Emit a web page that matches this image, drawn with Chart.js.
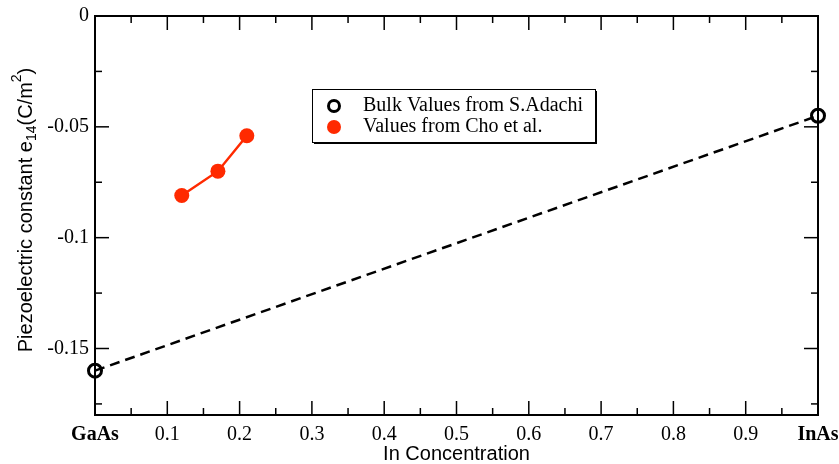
<!DOCTYPE html>
<html>
<head>
<meta charset="utf-8">
<script src="https://cdn.jsdelivr.net/npm/chart.js@4"></script>
<style>
  html, body { margin: 0; padding: 0; background: #fff; }
  #wrap { width: 839px; height: 464px; }
</style>
</head>
<body>
<div id="wrap"><canvas id="myChart"></canvas></div>
<script>
// data
const bulkX = [0, 1];
const bulkY = [-0.16, -0.045];
const choX = [0.12, 0.17, 0.21];
const choY = [-0.081, -0.07, -0.054];

const xTicks = [0, 0.1, 0.2, 0.3, 0.4, 0.5, 0.6, 0.7, 0.8, 0.9, 1];
const xTickLabels = ['GaAs', '0.1', '0.2', '0.3', '0.4', '0.5', '0.6', '0.7', '0.8', '0.9', 'InAs'];
const yTicks = [0, -0.05, -0.1, -0.15];
const yTickLabels = ['0', '-0.05', '-0.1', '-0.15'];

const RED = '#ff2a00';
const SERIF = '"Liberation Serif", "Times New Roman", serif';
const SANS = '"Liberation Sans", Arial, sans-serif';

function toPoints(xs, ys) {
    return xs.map((x, i) => ({ x: x, y: ys[i] }));
}

// frame, inward ticks on all four sides (major + minor)
const framePlugin = {
    id: 'frame',
    afterDatasetsDraw(chart) {
        const { ctx, chartArea: a, scales } = chart;
        const xs = scales.x, ys = scales.y;
        ctx.save();
        ctx.strokeStyle = '#000';
        ctx.lineWidth = 1.5;
        const tick = (x1, y1, x2, y2) => {
            ctx.beginPath(); ctx.moveTo(x1, y1); ctx.lineTo(x2, y2); ctx.stroke();
        };
        for (let i = 0; i <= 20; i++) {
            const v = i * 0.05;
            const px = xs.getPixelForValue(v);
            const len = i % 2 === 0 ? 14 : 7;
            tick(px, a.bottom, px, a.bottom - len);
            tick(px, a.top, px, a.top + len);
        }
        for (let i = 0; i <= 7; i++) {
            const v = -i * 0.025;
            const py = ys.getPixelForValue(v);
            const len = i % 2 === 0 ? 14 : 7;
            tick(a.left, py, a.left + len, py);
            tick(a.right, py, a.right - len, py);
        }
        ctx.lineWidth = 2;
        ctx.strokeRect(a.left, a.top, a.right - a.left, a.bottom - a.top);
        ctx.restore();
    }
};

// y title with subscript / superscript
const yTitlePlugin = {
    id: 'yTitle',
    afterDraw(chart) {
        const { ctx } = chart;
        const parts = [
            { t: 'Piezoelectric constant e', s: 20, dy: 0 },
            { t: '14', s: 14, dy: 6 },
            { t: '(C/m', s: 20, dy: 0 },
            { t: '2', s: 14, dy: -9 },
            { t: ')', s: 20, dy: 0 }
        ];
        ctx.save();
        let total = 0;
        parts.forEach(p => { ctx.font = p.s + 'px ' + SANS; p.w = ctx.measureText(p.t).width; total += p.w; });
        ctx.translate(26, 210);
        ctx.rotate(-Math.PI / 2);
        ctx.fillStyle = '#000';
        ctx.textBaseline = 'middle';
        let x = -total / 2;
        parts.forEach(p => {
            ctx.font = p.s + 'px ' + SANS;
            ctx.fillText(p.t, x, p.dy);
            x += p.w;
        });
        ctx.restore();
    }
};

// boxed legend inside the plot
const boxLegendPlugin = {
    id: 'boxLegend',
    afterDraw(chart) {
        const { ctx } = chart;
        const x0 = 312, y0 = 89, w = 283, h = 53;
        ctx.save();
        ctx.fillStyle = '#fff';
        ctx.fillRect(x0, y0, w, h);
        ctx.strokeStyle = '#000';
        ctx.lineWidth = 1;
        ctx.strokeRect(x0 + 0.5, y0 + 0.5, w, h);
        ctx.fillStyle = '#000';
        ctx.fillRect(x0 + 2, y0 + h, w, 2);
        ctx.fillRect(x0 + w, y0 + 2, 2, h);

        ctx.font = '20px ' + SERIF;
        ctx.textBaseline = 'middle';
        const rows = [106, 127];
        chart.data.datasets.forEach((ds, i) => {
            const cy = rows[i];
            ctx.beginPath();
            ctx.arc(334, cy, i === 0 ? 5.5 : 7, 0, Math.PI * 2);
            if (i === 0) {
                ctx.lineWidth = 3;
                ctx.strokeStyle = '#000';
                ctx.stroke();
            } else {
                ctx.fillStyle = RED;
                ctx.fill();
            }
            ctx.fillStyle = '#000';
            ctx.fillText(ds.label, 363, cy);
        });
        ctx.restore();
    }
};

const ctx = document.getElementById('myChart').getContext('2d');
const myChart = new Chart(ctx, {
    type: 'scatter',
    data: {
        datasets: [{
            label: 'Bulk Values from S.Adachi',
            data: toPoints(bulkX, bulkY),
            showLine: true,
            borderColor: '#000',
            borderWidth: 2.5,
            borderDash: [10, 6],
            pointRadius: 6.5,
            pointBorderWidth: 3,
            pointBackgroundColor: 'rgba(0,0,0,0)',
            pointBorderColor: '#000',
            clip: false
        }, {
            label: 'Values from Cho et al.',
            data: toPoints(choX, choY),
            showLine: true,
            borderColor: RED,
            borderWidth: 2.5,
            pointRadius: 7.5,
            pointBorderWidth: 0,
            pointBackgroundColor: RED,
            pointBorderColor: RED,
            clip: false
        }]
    },
    options: {
        responsive: true,
        maintainAspectRatio: false,
        animation: false,
        layout: { padding: { top: 16, right: 21, left: 0, bottom: 0 } },
        plugins: {
            legend: { display: false },
            tooltip: { enabled: false }
        },
        scales: {
            x: {
                type: 'linear',
                min: 0,
                max: 1,
                grid: { display: false, drawTicks: false },
                border: { display: false },
                afterBuildTicks: s => { s.ticks = xTicks.map(v => ({ value: v })); },
                afterFit: s => { s.height = 49; s.paddingLeft = 0; s.paddingRight = 0; },
                ticks: {
                    padding: 8,
                    maxRotation: 0,
                    autoSkip: false,
                    color: '#000',
                    callback: (v, i) => xTickLabels[i],
                    font: c => ({
                        family: SERIF,
                        size: 20,
                        weight: (c.index === 0 || c.index === xTicks.length - 1) ? 'bold' : 'normal'
                    })
                },
                title: {
                    display: true,
                    text: 'In Concentration',
                    color: '#000',
                    font: { family: SANS, size: 20 },
                    padding: { top: 0, bottom: -2 }
                }
            },
            y: {
                type: 'linear',
                min: -0.18,
                max: 0,
                grid: { display: false, drawTicks: false },
                border: { display: false },
                afterBuildTicks: s => { s.ticks = yTicks.map(v => ({ value: v })); },
                afterFit: s => { s.width = 95; s.paddingTop = 0; s.paddingBottom = 0; },
                ticks: {
                    padding: 6,
                    color: '#000',
                    callback: (v, i) => yTickLabels[i],
                    font: { family: SERIF, size: 20 }
                }
            }
        }
    },
    plugins: [framePlugin, yTitlePlugin, boxLegendPlugin]
});
</script>
</body>
</html>
